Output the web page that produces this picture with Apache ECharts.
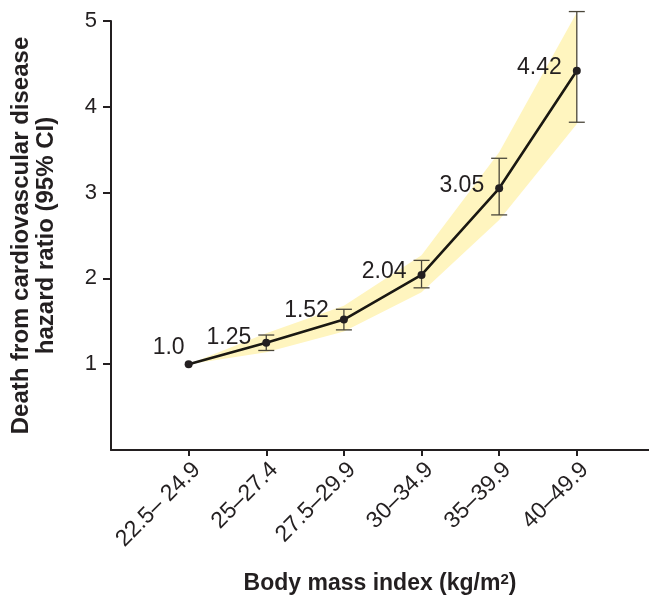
<!DOCTYPE html>
<html>
<head>
<meta charset="utf-8">
<script src="https://cdn.jsdelivr.net/npm/echarts@6/dist/echarts.min.js"></script>
<style>
html,body{margin:0;padding:0;background:#fff;}
#chart{width:649px;height:602px;}
</style>
</head>
<body>
<div id="chart"></div>
<script>
const categories = ['22.5\u2013 24.9', '25\u201327.4', '27.5\u201329.9', '30\u201334.9', '35\u201339.9', '40\u201349.9'];
const hazardRatio = [1.0, 1.25, 1.52, 2.04, 3.05, 4.42];
const valueLabels = ['1.0', '1.25', '1.52', '2.04', '3.05', '4.42'];
const ciLower = [null, 1.16, 1.40, 1.89, 2.74, 3.82];
const ciUpper = [null, 1.34, 1.64, 2.21, 3.40, 5.11];
const bandLower = [1.0, 1.14, 1.38, 1.84, 2.68, 3.80];
const bandUpper = [1.0, 1.36, 1.68, 2.27, 3.47, 5.10];
const yTicks = [1, 2, 3, 4, 5];

const FONT = '"Liberation Sans", Arial, Helvetica, sans-serif';
const TXT = '#231f20';
const catIdx = categories.map((c, i) => i);

// label placement per point (style only)
const labelStyles = [
  {distance: 0, offset: [0, -17]},
  {distance: 11, offset: [0, -5]},
  {distance: 11, offset: [0, -9]},
  {distance: 11, offset: [0, -3]},
  {distance: 11, offset: [0, -3]},
  {distance: 11, offset: [0, -3]}
];

const chart = echarts.init(document.getElementById('chart'), null, {renderer: 'canvas'});

const option = {
  animation: false,
  backgroundColor: '#ffffff',
  grid: {left: 111, right: 0, top: 21, bottom: 152, containLabel: false},
  xAxis: {
    type: 'value',
    min: -1,
    max: 5.93,
    splitLine: {show: false},
    axisLine: {show: true, onZero: false, lineStyle: {color: '#231f20', width: 2}},
    axisTick: {show: true, customValues: catIdx, length: 6, lineStyle: {color: '#231f20', width: 2}},
    axisLabel: {
      show: true, customValues: catIdx, rotate: 45, margin: 8, verticalAlign: 'top',
      formatter: v => categories[Math.round(v)] || '',
      fontFamily: FONT, fontSize: 23, color: TXT
    },
    name: '{b|Body mass index (kg/m}{s|2}{b|)}',
    nameLocation: 'middle',
    nameGap: 122,
    nameTextStyle: {
      rich: {
        b: {fontFamily: FONT, fontSize: 23, fontWeight: 'bold', color: TXT},
        s: {fontFamily: FONT, fontSize: 15, fontWeight: 'bold', color: TXT, padding: [0, 0, 9, 0]}
      }
    }
  },
  yAxis: {
    type: 'value',
    min: 0,
    max: 5,
    interval: 1,
    splitLine: {show: false},
    axisLine: {show: true, onZero: false, lineStyle: {color: '#231f20', width: 2}},
    axisTick: {show: true, customValues: yTicks, length: 8, lineStyle: {color: '#231f20', width: 2}},
    axisLabel: {show: true, customValues: yTicks, margin: 14, fontFamily: FONT, fontSize: 22, color: TXT},
    name: 'Death from cardiovascular disease\nhazard ratio (95% CI)',
    nameLocation: 'middle',
    nameRotate: 90,
    nameGap: 52,
    nameTextStyle: {fontFamily: FONT, fontSize: 24, fontWeight: 'bold', color: TXT, lineHeight: 25, align: 'center'}
  },
  series: [
    {
      type: 'custom',
      name: 'band',
      silent: true,
      z: 1,
      data: [[0]],
      renderItem: function (params, api) {
        const pts = [];
        for (let i = 0; i < bandUpper.length; i++) pts.push(api.coord([i, bandUpper[i]]));
        for (let i = bandLower.length - 1; i >= 0; i--) pts.push(api.coord([i, bandLower[i]]));
        return {type: 'polygon', shape: {points: pts}, style: {fill: '#fff5bf', stroke: 'none'}};
      }
    },
    {
      type: 'custom',
      name: 'ci',
      silent: true,
      z: 3,
      data: catIdx.filter(i => ciLower[i] != null).map(i => [i, ciLower[i], ciUpper[i]]),
      renderItem: function (params, api) {
        const x = api.value(0);
        const lo = api.coord([x, api.value(1)]);
        const hi = api.coord([x, api.value(2)]);
        const w = 8;
        const st = {stroke: '#4a463a', lineWidth: 1.3};
        return {
          type: 'group',
          children: [
            {type: 'line', shape: {x1: lo[0], y1: lo[1], x2: hi[0], y2: hi[1]}, style: st},
            {type: 'line', shape: {x1: lo[0] - w, y1: lo[1], x2: lo[0] + w, y2: lo[1]}, style: st},
            {type: 'line', shape: {x1: hi[0] - w, y1: hi[1], x2: hi[0] + w, y2: hi[1]}, style: st}
          ]
        };
      }
    },
    {
      type: 'line',
      name: 'HR',
      z: 4,
      data: hazardRatio.map((v, i) => ({
        value: [i, v],
        label: {
          show: true,
          position: 'left',
          distance: labelStyles[i].distance,
          offset: labelStyles[i].offset,
          formatter: valueLabels[i]
        }
      })),
      symbol: 'circle',
      symbolSize: 8,
      itemStyle: {color: '#231f20'},
      lineStyle: {color: '#1a1812', width: 2.6},
      label: {fontFamily: FONT, fontSize: 23, color: TXT}
    }
  ]
};

chart.setOption(option);
</script>
</body>
</html>
